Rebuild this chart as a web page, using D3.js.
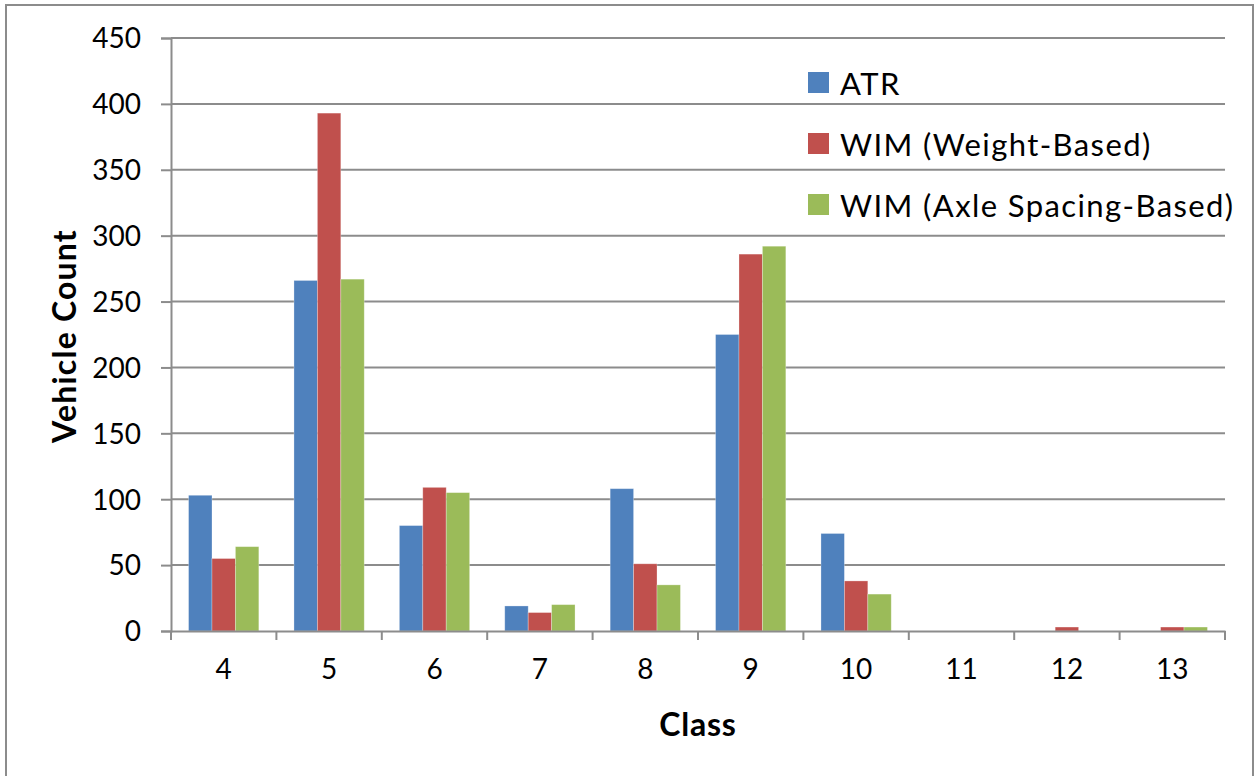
<!DOCTYPE html>
<html><head><meta charset="utf-8">
<script src="https://cdn.jsdelivr.net/npm/d3@7"></script>
<style>body{margin:0;background:#fff}svg{display:block}text{font-family:Lato,"Open Sans",sans-serif}</style>
</head><body>
<svg id="c" width="1254" height="776"></svg>
<script>
const categories = ["4","5","6","7","8","9","10","11","12","13"];
const seriesNames = ["ATR","WIM (Weight-Based)","WIM (Axle Spacing-Based)"];
const atr = [103,266,80,19,108,225,74,0,0,0];
const wimWeight = [55,393,109,14,51,286,38,0,3,3];
const wimAxle = [64,267,105,20,35,292,28,0,0,3];
const yTicks = [0,50,100,150,200,250,300,350,400,450];
const colors = ["#4f81bd","#c0504d","#9bbb59"];

const series = [atr, wimWeight, wimAxle];
const svg = d3.select("#c");
const L = 171, R = 1225, T = 38, B = 631;

svg.append("rect").attr("x",6).attr("y",5).attr("width",1247).attr("height",790)
  .attr("fill","#fff").attr("stroke","#8c8c8c").attr("stroke-width",2);

const x = d3.scaleBand().domain(categories).range([L,R]).paddingInner(0).paddingOuter(0);
const y = d3.scaleLinear().domain([0,450]).range([B,T]);

// grid
svg.append("g").selectAll("line").data(yTicks.filter(d=>d>0)).join("line")
  .attr("x1",L).attr("x2",R).attr("y1",d=>y(d)).attr("y2",d=>y(d))
  .attr("stroke","#8c8c8c").attr("stroke-width",2);

// bars
const bw = x.bandwidth()/4.5;
const x1 = d3.scaleBand().domain(d3.range(3)).range([0,bw*3]);
const g = svg.append("g");
series.forEach((s,si)=>{
  g.selectAll(null).data(s).join("rect")
   .attr("x",(d,i)=>x(categories[i]) + bw*0.75 + x1(si))
   .attr("y",d=>y(d)).attr("width",x1.bandwidth()).attr("height",d=>B-y(d))
   .attr("fill",colors[si]).attr("stroke","rgba(255,255,255,0.35)").attr("stroke-width",0.8);
});

// y axis
const ya = svg.append("g").attr("transform",`translate(${L},0)`)
  .call(d3.axisLeft(y).tickValues(yTicks).tickSize(10).tickPadding(20));
ya.select(".domain").attr("stroke","#8c8c8c").attr("stroke-width",2);
ya.selectAll(".tick line").attr("stroke","#8c8c8c").attr("stroke-width",2);
ya.selectAll(".tick text").attr("font-size",28).attr("fill","#000").attr("font-family","Lato").attr("dy","0.35em");

// x axis
const xa = svg.append("g").attr("transform",`translate(0,${B})`)
  .call(d3.axisBottom(x).tickSize(0).tickPadding(28));
xa.select(".domain").attr("stroke","#8c8c8c").attr("stroke-width",2);
xa.selectAll(".tick text").attr("font-size",28).attr("fill","#000").attr("font-family","Lato");
svg.append("g").selectAll("line").data(d3.range(categories.length+1)).join("line")
  .attr("x1",i=>L+i*x.step()).attr("x2",i=>L+i*x.step()).attr("y1",B).attr("y2",B+9)
  .attr("stroke","#8c8c8c").attr("stroke-width",2);

// titles
svg.append("text").attr("transform","translate(63,336) rotate(-90)")
  .attr("text-anchor","middle").attr("dominant-baseline","central")
  .attr("font-weight","bold").attr("font-size",32).attr("letter-spacing",1.2).text("Vehicle Count");
svg.append("text").attr("x",698).attr("y",723)
  .attr("text-anchor","middle").attr("dominant-baseline","central")
  .attr("font-weight","bold").attr("font-size",32).attr("letter-spacing",0.8).text("Class");

// legend
const lg = svg.append("g");
seriesNames.forEach((n,i)=>{
  const cy = 82.5 + i*61;
  lg.append("rect").attr("x",808).attr("y",cy-10.5).attr("width",21).attr("height",21).attr("fill",colors[i]);
  lg.append("text").attr("x",840).attr("y",cy).attr("dominant-baseline","central")
    .attr("font-size",31).attr("letter-spacing",1.4).text(n);
});
</script>
</body></html>
